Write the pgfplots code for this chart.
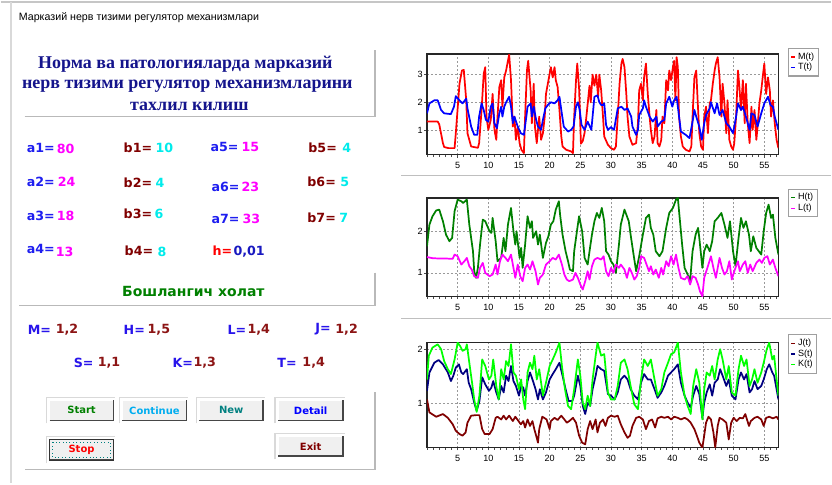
\documentclass[border=0pt]{standalone}
\usepackage{fontspec}
\setmainfont{DejaVu Sans}
\newfontfamily\lib{Liberation Sans}
\newfontfamily\libser{Liberation Serif}
\usepackage{pgfplots}
\pgfplotsset{compat=1.18}
\definecolor{navyt}{RGB}{20,20,140}
\definecolor{albl}{RGB}{30,30,240}
\definecolor{mag}{RGB}{255,0,255}
\definecolor{drd}{RGB}{128,0,0}
\definecolor{cyn}{RGB}{0,235,235}
\definecolor{valr}{RGB}{140,20,20}
\definecolor{ilbl}{RGB}{40,20,235}
\definecolor{dgreen}{RGB}{0,128,0}
\definecolor{teal2}{RGB}{0,128,128}
\definecolor{btnface}{RGB}{240,240,240}
\definecolor{Hc}{RGB}{0,128,0}
\definecolor{Lc}{RGB}{255,0,255}
\definecolor{Jc}{RGB}{128,0,0}
\definecolor{Sc}{RGB}{0,0,128}
\definecolor{Kc}{RGB}{0,255,0}
\pgfplotsset{
  myax/.style={
    scale only axis, width=264pt,
    xmin=0, xmax=57.3,
    xtick={5,10,...,55}, minor xtick={0,1,...,57},
    grid=major,
    major grid style={gray!80, dash pattern=on 1.5pt off 1.5pt, line width=0.45pt},
    tick align=outside, tick pos=left,
    major tick length=2.2pt, minor tick length=1.8pt,
    every tick/.style={black!70, line width=0.45pt},
    axis line style={line width=1pt, black!85},
    tick label style={font=\lib\fontsize{6.8}{7}\selectfont},
    yticklabel style={xshift=2.5pt},
    /pgf/number format/assume math mode=true,
    legend style={anchor=north west, font=\lib\fontsize{6.8}{7.5}\selectfont,
      draw=gray!75, line width=0.8pt, inner sep=1.2pt, row sep=-2.5pt, fill=white},
    legend cell align=left,
    legend image code/.code={\draw[##1, line width=1pt] (0pt,0pt) -- (2.8pt,0pt);},
    every axis plot/.append style={line width=1.3pt, line join=round},
  }
}
\newcommand{\btn}[6]{%
  \draw[gray!30, line width=1.2pt] (#1-3,#4+3) -- (#1-3,#2-3) -- (#3+2,#2-3);
  \fill[btnface] (#1,#2) rectangle (#3,#4);
  \draw[white, line width=1pt] (#1,#4) -- (#1,#2) -- (#3,#2);
  \draw[gray!55!black, line width=1.2pt] (#1,#4) -- (#3,#4) -- (#3,#2);
  \node[text=#6, font=\bfseries\fontsize{7.5}{9}\selectfont, inner sep=0] at ({(#1+#3)/2},{(#2+#4)/2}) {#5};
}
\begin{document}
\begin{tikzpicture}
\begin{scope}[x=0.75pt,y=-0.75pt]
\fill[white] (0,0) rectangle (832,484);
\draw[gray!45, line width=1pt] (0,2) -- (832,2);
\draw[gray!30, line width=1.5pt] (10,2) -- (10,484);
\node[anchor=west, inner sep=0, font=\lib\fontsize{8}{9}\selectfont] at (18,18) {Марказий нерв тизими регулятор механизмлари};
% title
\begin{scope}[every node/.style={inner sep=0, text=navyt, font=\libser\bfseries\fontsize{13.5}{15}\selectfont}]
\node at (185,64) {Норма ва патологияларда марказий};
\node at (187,86) {нерв тизими регулятор механизмларини};
\node at (189,107) {тахлил килиш};
\end{scope}
\draw[gray!55, line width=1pt] (24,117) -- (375,117) -- (375,50);
% parameters
\begin{scope}[every node/.style={inner sep=0, anchor=west, font=\bfseries\fontsize{9.5}{11}\selectfont}]
\node[text=albl] at (26,148) {a1=}; \node[text=mag] at (56,149) {80};
\node[text=drd] at (123,148) {b1=}; \node[text=cyn] at (155,148) {10};
\node[text=albl] at (210,147) {a5=}; \node[text=mag] at (241,147) {15};
\node[text=drd] at (308,148) {b5=}; \node[text=cyn] at (342,148) {4};
\node[text=albl] at (26,182) {a2=}; \node[text=mag] at (57,182) {24};
\node[text=drd] at (123,183) {b2=}; \node[text=cyn] at (155,183) {4};
\node[text=albl] at (211,187) {a6=}; \node[text=mag] at (241,187) {23};
\node[text=drd] at (307,182) {b6=}; \node[text=cyn] at (340,182) {5};
\node[text=albl] at (26,216) {a3=}; \node[text=mag] at (56,216) {18};
\node[text=drd] at (123,214) {b3=}; \node[text=cyn] at (154,214) {6};
\node[text=albl] at (211,219) {a7=}; \node[text=mag] at (242,219) {33};
\node[text=drd] at (307,218) {b7=}; \node[text=cyn] at (339,218) {7};
\node[text=albl] at (26,249) {a4=}; \node[text=mag] at (55,252) {13};
\node[text=drd] at (124,251) {b4=}; \node[text=cyn] at (157,252) {8};
\node[text=red] at (212,251) {h=}; \node[text=albl!80!black] at (233,252) {0,01};
\end{scope}
\draw[gray!55, line width=1pt] (375,273) -- (375,306) -- (18,306);
\node[inner sep=0, text=dgreen, font=\bfseries\fontsize{10.5}{12}\selectfont] at (193,292) {Бошлангич холат};
% initial values
\begin{scope}[every node/.style={inner sep=0, anchor=west, font=\bfseries\fontsize{9.5}{11}\selectfont}]
\node[text=ilbl] at (27,330) {M=}; \node[text=valr] at (55,330) {1,2};
\node[text=ilbl] at (123,330) {H=}; \node[text=valr] at (147,330) {1,5};
\node[text=ilbl] at (227,330) {L=}; \node[text=valr] at (247,330) {1,4};
\node[text=ilbl] at (315,330) {J=}; \node[text=valr] at (335,330) {1,2};
\node[text=ilbl] at (73,363) {S=}; \node[text=valr] at (97,363) {1,1};
\node[text=ilbl] at (172,363) {K=}; \node[text=valr] at (193,363) {1,3};
\node[text=ilbl] at (277,363) {T=}; \node[text=valr] at (302,363) {1,4};
\end{scope}
% buttons
\btn{49}{401}{113}{421}{Start}{dgreen}
\btn{122}{401}{186}{421}{Continue}{cyan}
\btn{199}{401}{263}{421}{New}{teal2}
\btn{278}{401}{343}{421}{Detail}{blue}
\btn{49}{440}{113}{461}{Stop}{red}
\draw[black!80, line width=1pt] (49,440) rectangle (113,461);
\draw[teal2, dotted, line width=0.6pt] (52,443) rectangle (110,458);
\btn{278}{437}{343}{457}{Exit}{drd}
\draw[gray!55, line width=1pt] (375,393) -- (375,470) -- (24,470);
% right separators
\draw[gray!50, line width=1pt] (401,176) -- (832,176);
\draw[gray!50, line width=1pt] (401,319) -- (832,319);
\end{scope}

% ---- plot 1
\begin{axis}[myax, at={(320.25pt,-116.25pt)}, height=75.75pt,
  ymin=0.1, ymax=3.75, ytick={1,2,3},
  legend style={at={(1.028,1.06)}}]
\addplot[red] coordinates {(0,1.3) (1.75,1.3) (2.0,1.2) (2.6,0.52) (2.8,0.38) (3.5,0.34) (4.5,0.34) (4.7,0.88) (5.3,2.67) (5.7,3.15) (6.0,3.17) (6.4,2.07) (6.6,0.88) (7.2,0.4) (8.3,0.35) (8.5,0.52) (8.9,1.72) (9.25,3.03) (9.5,3.27) (9.7,1.48) (10.0,1.0) (10.4,1.36) (10.7,2.3) (11.0,1.0) (11.3,0.64) (11.5,1.48) (11.8,2.55) (12.1,2.8) (12.3,1.84) (12.6,2.9) (12.9,3.15) (13.2,3.5) (13.4,3.72) (13.7,2.8) (14.0,1.12) (14.25,1.48) (14.5,0.64) (14.8,1.12) (15.1,0.52) (15.4,0.28) (15.8,0.16) (16.0,1.48) (16.3,3.15) (16.5,3.5) (16.9,2.43) (17.1,1.24) (17.4,2.67) (17.6,1.12) (17.9,0.52) (18.3,1.48) (18.6,0.64) (18.9,0.88) (19.2,1.48) (19.4,2.3) (19.7,2.67) (20.0,3.03) (20.2,3.27) (20.5,2.9) (20.8,3.27) (21.0,2.8) (21.3,2.55) (21.6,1.72) (21.9,0.76) (22.1,0.4) (22.7,0.28) (23.5,0.22) (23.8,0.16) (24.0,1.48) (24.3,2.8) (24.5,3.4) (24.8,2.5) (25.1,0.5) (25.4,0.6) (25.7,0.9) (26.0,1.5) (26.5,2.6) (26.7,2.0) (27.0,3.0) (27.3,2.6) (27.6,3.0) (27.9,2.2) (28.1,3.0) (28.4,2.43) (28.7,1.48) (28.9,0.76) (29.5,0.46) (30.0,0.34) (30.5,0.28) (30.8,0.4) (31.1,1.48) (31.4,2.67) (31.7,3.4) (31.9,3.57) (32.2,3.27) (32.5,2.3) (32.7,1.48) (33.0,0.76) (33.5,0.46) (34.1,0.52) (34.4,1.24) (34.6,2.43) (34.9,2.67) (35.2,2.07) (35.4,2.9) (35.7,3.4) (36.0,2.3) (36.3,1.48) (36.5,1.0) (36.8,0.52) (37.1,0.76) (37.4,1.72) (37.6,0.52) (37.9,0.4) (38.2,0.64) (38.4,1.48) (38.7,1.24) (39.0,2.8) (39.3,2.43) (39.5,3.15) (39.8,2.8) (40.1,3.27) (40.3,3.5) (40.5,2.07) (40.7,3.63) (40.9,3.27) (41.1,1.48) (41.4,0.76) (41.7,0.4) (42.2,0.28) (42.8,0.22) (43.1,0.4) (43.3,1.48) (43.6,2.9) (43.9,3.15) (44.1,2.2) (44.4,0.88) (44.7,0.4) (45.0,0.28) (45.2,1.48) (45.5,1.84) (45.8,0.88) (46.1,1.96) (46.3,2.07) (46.6,2.67) (46.9,3.15) (47.1,3.4) (47.4,3.63) (47.7,2.9) (48.0,1.48) (48.2,2.67) (48.5,1.96) (48.8,0.88) (49.0,2.07) (49.3,0.64) (49.6,0.4) (49.9,0.28) (50.1,0.52) (50.4,1.48) (50.7,3.15) (50.9,2.67) (51.2,1.72) (51.5,2.8) (51.8,1.24) (52.0,2.67) (52.3,1.24) (52.6,0.52) (52.9,1.84) (53.1,1.0) (53.4,1.72) (53.7,0.64) (53.9,1.12) (54.2,1.96) (54.5,2.43) (54.8,3.03) (55.0,3.4) (55.3,2.3) (55.6,2.9) (55.9,2.43) (56.1,1.48) (56.4,2.07) (56.7,1.24) (57.0,0.64) (57.3,0.34)};
\addlegendentry{M(t)}
\addplot[blue] coordinates {(0,1.6) (0.4,1.96) (1.2,2.07) (1.75,2.07) (2.3,1.72) (2.8,1.6) (3.9,1.57) (4.4,1.84) (4.7,2.22) (5.3,2.07) (5.8,1.96) (6.4,2.13) (6.6,1.78) (7.2,1.12) (7.7,0.82) (8.2,0.82) (8.5,1.48) (8.9,1.96) (9.25,1.72) (9.6,1.36) (10.0,1.3) (10.4,1.84) (10.7,1.96) (11.0,1.24) (11.4,1.06) (11.8,1.6) (12.1,1.84) (12.3,1.48) (12.6,1.84) (12.9,2.0) (13.4,2.2) (13.7,1.84) (14.0,1.24) (14.25,1.48) (14.8,1.12) (15.3,0.88) (15.8,0.82) (16.2,1.48) (16.4,1.84) (16.9,1.96) (17.1,1.48) (17.4,1.84) (17.8,1.36) (18.1,1.12) (18.6,1.0) (18.9,1.36) (19.3,1.78) (19.7,1.9) (20.2,2.0) (20.8,1.96) (21.3,2.07) (21.6,2.2) (21.9,1.72) (22.3,1.12) (23.0,0.94) (23.5,1.0) (23.9,1.12) (24.3,1.84) (24.6,2.0) (24.9,1.72) (25.2,1.18) (25.7,1.0) (26.2,1.3) (26.8,1.0) (27.3,2.2) (27.8,2.25) (28.1,2.0) (28.4,1.9) (28.7,1.9) (28.9,1.96) (29.2,1.18) (29.5,1.0) (30.0,1.1) (30.5,1.0) (31.1,1.78) (31.7,1.84) (32.2,1.72) (32.7,1.78) (33.3,1.48) (33.5,1.12) (34.1,0.82) (34.4,1.0) (34.6,1.54) (35.2,1.78) (35.4,2.07) (35.7,1.84) (36.3,1.48) (36.8,1.3) (37.4,1.48) (37.6,1.12) (38.2,1.3) (38.7,1.36) (39.0,1.96) (39.5,2.2) (40.0,1.84) (40.3,2.07) (40.7,2.2) (41.1,1.48) (41.4,0.94) (42.2,0.82) (42.8,0.7) (43.3,1.3) (43.6,1.72) (43.9,1.48) (44.4,1.12) (44.8,0.64) (45.2,1.24) (45.5,1.54) (46.1,1.78) (46.3,2.0) (46.9,1.6) (47.3,1.96) (47.7,1.54) (48.2,1.72) (48.8,1.24) (49.3,1.12) (49.9,0.88) (50.4,1.48) (50.7,1.96) (51.2,1.72) (51.5,1.84) (52.0,1.48) (52.6,1.0) (52.9,1.6) (53.4,1.54) (53.9,1.12) (54.5,1.6) (55.0,1.96) (55.6,2.2) (56.0,1.9) (56.4,1.84) (56.7,1.48) (57.3,1.0)};
\addlegendentry{T(t)}
\end{axis}

% ---- plot 2
\begin{axis}[myax, at={(320.25pt,-222.5pt)}, height=73.8pt,
  ymin=0.44, ymax=2.8, ytick={1,2},
  legend style={at={(1.028,1.095)}}]
\addplot[Hc] coordinates {(0,1.64) (0.4,2.16) (0.9,2.36) (1.5,2.5) (2.0,2.52) (2.6,2.24) (3.1,1.92) (3.65,1.76) (4.1,1.84) (4.5,2.48) (5.0,2.76) (5.6,2.72) (5.9,2.68) (6.5,2.76) (6.9,2.16) (7.5,1.52) (7.7,1.04) (8.0,0.88) (8.3,1.12) (8.65,1.68) (9.1,2.28) (9.5,2.24) (10.2,2.0) (10.5,1.96) (10.7,2.32) (11.2,1.76) (11.5,1.28) (12.1,1.36) (12.5,1.84) (12.8,1.52) (13.2,2.16) (13.7,2.56) (14.1,2.0) (14.4,1.68) (14.6,2.0) (15.1,1.36) (15.35,1.6) (15.6,1.12) (16.0,1.68) (16.4,2.36) (16.8,2.08) (17.1,2.24) (17.3,1.84) (17.8,2.0) (18.1,1.68) (18.4,1.92) (18.9,1.36) (19.4,1.72) (19.8,1.88) (20.2,2.16) (20.6,2.24) (21.0,2.52) (21.5,2.72) (21.7,2.4) (22.1,1.92) (22.6,1.52) (23.0,1.28) (23.3,1.08) (23.8,1.04) (24.0,1.52) (24.6,2.16) (24.8,2.36) (25.3,2.0) (25.7,1.36) (26.2,1.2) (26.5,1.52) (26.9,1.92) (27.3,2.24) (27.7,2.44) (28.1,2.32) (28.5,2.56) (28.9,2.24) (29.2,1.52) (29.6,1.44) (30.0,1.28) (30.4,1.2) (30.8,1.0) (31.3,1.68) (31.6,2.16) (32.2,2.52) (32.6,2.36) (32.9,2.24) (33.2,1.92) (33.6,1.52) (34.1,1.04) (34.6,1.4) (35.2,1.92) (35.7,2.32) (36.2,2.4) (36.5,2.08) (36.9,1.92) (37.3,1.52) (37.9,1.4) (38.4,1.52) (39.0,2.08) (39.5,2.44) (40.1,2.56) (40.6,2.76) (40.9,2.8) (41.2,2.32) (41.6,1.68) (42.0,1.12) (42.5,0.96) (42.9,0.8) (43.3,1.52) (43.8,1.92) (44.2,2.08) (44.4,1.84) (44.9,1.12) (45.2,1.52) (45.6,1.68) (46.1,1.52) (46.5,1.76) (46.9,2.24) (47.4,2.32) (48.0,2.44) (48.5,2.16) (49.0,1.84) (49.4,2.24) (49.9,1.52) (50.3,1.16) (50.8,1.84) (51.2,2.32) (51.6,2.08) (52.0,2.24) (52.5,1.92) (52.8,1.52) (53.2,1.88) (53.7,1.6) (54.1,1.52) (54.5,1.44) (54.9,2.0) (55.3,2.44) (55.7,2.64) (56.1,2.32) (56.4,2.4) (56.8,1.84) (57.3,1.44)};
\addlegendentry{H(t)}
\addplot[Lc] coordinates {(0,1.38) (1,1.35) (4.2,1.34) (4.5,1.44) (5.0,1.4) (5.6,1.2) (6.1,1.28) (6.5,1.36) (6.9,1.16) (7.3,1.08) (7.7,0.92) (8.3,0.88) (8.65,1.12) (9.1,1.24) (9.5,1.0) (10.2,0.92) (10.7,0.96) (11.2,1.2) (11.5,0.96) (11.9,1.28) (12.3,1.44) (12.8,1.36) (13.2,1.28) (13.7,1.44) (14.1,1.12) (14.4,0.88) (14.8,1.2) (15.2,0.92) (15.6,0.8) (16.0,1.12) (16.4,1.2) (16.8,1.08) (17.2,1.28) (17.7,1.04) (18.1,0.72) (18.4,0.88) (18.9,0.96) (19.4,1.2) (20.0,1.28) (20.5,1.36) (21.0,1.32) (21.5,1.44) (22.0,1.2) (22.4,0.96) (22.8,0.84) (23.2,0.8) (23.8,0.84) (24.2,1.0) (24.6,0.88) (25.0,0.72) (25.4,0.6) (25.8,0.8) (26.2,1.04) (26.5,0.84) (26.9,1.16) (27.3,1.32) (27.8,1.36) (28.4,1.32) (28.8,1.4) (29.2,1.04) (29.6,0.92) (30.0,1.12) (30.4,1.0) (30.8,1.2) (31.3,1.12) (31.6,1.2) (32.2,1.08) (32.6,0.88) (33.0,1.12) (33.4,1.0) (33.8,0.84) (34.2,0.92) (34.6,1.12) (34.9,1.4) (35.4,1.36) (35.8,1.2) (36.2,1.04) (36.5,1.16) (36.9,0.96) (37.3,1.08) (37.8,0.88) (38.2,1.12) (38.5,0.96) (39.0,1.28) (39.4,1.16) (39.8,1.4) (40.2,1.2) (40.6,1.44) (41.0,1.12) (41.4,0.88) (42.0,0.84) (42.5,0.92) (42.9,0.72) (43.3,0.92) (43.8,0.88) (44.2,0.72) (44.5,0.56) (44.9,0.44) (45.2,0.88) (45.8,1.16) (46.3,1.4) (46.7,1.12) (47.1,0.88) (47.7,1.36) (48.1,1.12) (48.5,0.96) (48.9,1.04) (49.3,1.28) (49.7,0.84) (50.1,1.04) (50.7,1.28) (51.0,1.04) (51.5,1.2) (51.9,1.28) (52.3,1.0) (52.7,1.2) (53.1,1.04) (53.7,1.24) (54.2,1.32) (54.6,1.24) (55.0,1.36) (55.5,1.4) (55.9,1.2) (56.4,1.32) (56.8,1.12) (57.3,0.92)};
\addlegendentry{L(t)}
\end{axis}

% ---- plot 3
\begin{axis}[myax, at={(320.25pt,-336.2pt)}, height=78.75pt,
  ymin=0.18, ymax=2.12, ytick={1,2},
  legend style={at={(1.028,1.08)}}]
\addplot[Jc] coordinates {(0,1.07) (0.4,0.83) (1.5,0.75) (2.6,0.8) (3.4,0.73) (4.2,0.61) (4.7,0.49) (5.3,0.43) (5.8,0.4) (6.3,0.46) (6.6,0.64) (7.2,0.77) (8.0,0.78) (8.55,0.78) (9.0,0.52) (9.4,0.43) (10.2,0.43) (10.7,0.52) (11.2,0.73) (11.5,0.75) (12.1,0.7) (12.5,0.77) (12.9,0.7) (13.4,0.77) (14.0,0.67) (14.4,0.75) (14.8,0.69) (15.3,0.61) (15.7,0.67) (16.0,0.55) (16.4,0.7) (16.8,0.58) (17.2,0.67) (17.5,0.52) (17.8,0.4) (18.1,0.27) (18.3,0.52) (18.8,0.75) (19.1,0.73) (19.5,0.7) (20.0,0.52) (20.2,0.67) (20.8,0.73) (21.3,0.69) (21.9,0.77) (22.4,0.7) (22.8,0.64) (23.2,0.67) (23.8,0.73) (24.3,0.64) (24.8,0.4) (25.3,0.27) (25.8,0.24) (26.2,0.52) (26.6,0.67) (27.0,0.52) (27.5,0.7) (27.8,0.46) (28.2,0.64) (28.7,0.7) (29.1,0.58) (29.5,0.73) (30.0,0.77) (30.6,0.75) (31.1,0.77) (31.6,0.61) (32.2,0.46) (32.7,0.36) (33.1,0.4) (33.5,0.58) (34.1,0.73) (34.6,0.75) (35.2,0.7) (35.7,0.52) (36.2,0.67) (36.7,0.7) (37.2,0.55) (37.6,0.72) (38.2,0.75) (38.7,0.73) (39.3,0.75) (39.8,0.7) (40.3,0.75) (40.9,0.73) (41.4,0.7) (42.0,0.73) (42.5,0.7) (43.0,0.64) (43.6,0.52) (44.0,0.4) (44.4,0.27) (44.9,0.18) (45.2,0.4) (45.5,0.64) (45.9,0.75) (46.3,0.7) (46.7,0.46) (47.0,0.18) (47.4,0.58) (47.7,0.73) (48.2,0.7) (48.8,0.64) (49.2,0.33) (49.6,0.64) (50.0,0.73) (50.5,0.67) (51.0,0.73) (51.5,0.72) (51.9,0.8) (52.5,0.58) (52.8,0.67) (53.4,0.73) (53.9,0.75) (54.5,0.7) (54.9,0.58) (55.3,0.73) (55.8,0.75) (56.4,0.72) (57.0,0.75) (57.3,0.7)};
\addlegendentry{J(t)}
\addplot[Sc] coordinates {(0,1.23) (0.4,1.57) (1.2,1.75) (1.9,1.8) (2.6,1.72) (3.4,1.57) (3.9,1.41) (4.3,1.51) (4.7,1.66) (5.2,1.72) (5.6,1.57) (5.9,1.54) (6.5,1.63) (6.8,1.38) (7.2,1.26) (7.7,1.01) (8.1,0.86) (8.55,1.04) (9.0,1.48) (9.5,1.35) (10.1,1.23) (10.5,1.29) (10.8,1.41) (11.3,1.2) (11.7,1.07) (12.1,1.32) (12.5,1.2) (12.9,1.51) (13.3,1.41) (13.7,1.69) (14.1,1.41) (14.5,1.32) (15.0,1.14) (15.35,1.32) (15.7,1.29) (16.0,1.14) (16.4,1.41) (16.8,1.57) (17.2,1.44) (17.7,1.26) (18.1,1.07) (18.4,1.26) (18.9,1.07) (19.4,1.2) (20.0,1.44) (20.5,1.54) (21.0,1.63) (21.6,1.75) (22.1,1.51) (22.6,1.26) (23.1,1.04) (23.7,1.04) (24.0,1.14) (24.6,1.51) (25.0,1.32) (25.4,0.95) (25.8,0.8) (26.2,1.01) (26.6,0.95) (27.0,1.26) (27.5,1.51) (27.8,1.69) (28.4,1.63) (28.9,1.6) (29.5,1.17) (30.0,1.14) (30.6,1.07) (31.1,1.2) (31.6,1.44) (32.2,1.51) (32.7,1.44) (33.2,1.26) (33.8,1.14) (34.4,1.07) (34.9,1.38) (35.4,1.54) (36.0,1.44) (36.5,1.44) (37.1,1.26) (37.6,1.1) (38.2,1.2) (38.7,1.32) (39.3,1.51) (39.8,1.57) (40.3,1.63) (40.9,1.72) (41.4,1.38) (42.0,1.14) (42.5,1.01) (43.0,0.92) (43.4,1.14) (43.9,1.32) (44.4,1.17) (44.9,0.73) (45.2,1.01) (45.6,1.2) (46.1,1.35) (46.5,1.14) (46.9,1.38) (47.4,1.44) (47.8,1.63) (48.2,1.51) (48.8,1.32) (49.2,1.44) (49.7,1.14) (50.3,1.07) (50.8,1.44) (51.2,1.57) (51.7,1.44) (52.1,1.54) (52.6,1.2) (53.0,1.26) (53.4,1.41) (53.9,1.26) (54.5,1.32) (54.9,1.44) (55.4,1.63) (55.8,1.72) (56.3,1.57) (56.6,1.51) (57.0,1.26) (57.3,1.07)};
\addlegendentry{S(t)}
\addplot[Kc] coordinates {(0,1.44) (0.3,1.88) (0.9,2.03) (1.75,2.09) (2.3,2.0) (2.8,1.78) (3.4,1.63) (3.9,1.54) (4.5,1.81) (5.0,2.12) (5.4,2.06) (5.8,1.97) (6.3,2.0) (6.5,2.09) (6.9,1.75) (7.35,1.38) (7.7,1.07) (8.1,0.84) (8.55,1.14) (9.0,1.81) (9.5,1.69) (10.1,1.44) (10.5,1.51) (10.8,1.81) (11.3,1.32) (11.7,1.07) (12.1,1.63) (12.5,1.44) (12.9,1.78) (13.3,1.69) (13.7,2.09) (14.1,1.57) (14.5,1.51) (15.0,1.26) (15.35,1.44) (15.7,1.07) (16.0,0.89) (16.4,1.57) (16.8,1.75) (17.2,1.63) (17.5,1.88) (17.9,1.44) (18.3,1.63) (18.9,1.14) (19.4,1.38) (20.0,1.69) (20.5,1.81) (21.0,1.94) (21.6,2.12) (22.0,1.69) (22.5,1.26) (23.0,0.95) (23.5,0.89) (24.0,1.26) (24.6,1.81) (25.0,1.51) (25.4,1.01) (25.8,0.89) (26.2,1.14) (26.6,0.95) (27.0,1.44) (27.5,1.88) (27.8,2.12) (28.4,1.88) (28.9,1.91) (29.5,1.2) (30.0,1.07) (30.6,1.07) (31.1,1.32) (31.6,1.75) (32.2,1.81) (32.7,1.63) (33.2,1.32) (33.8,0.98) (34.4,0.89) (34.9,1.44) (35.4,1.81) (36.0,1.69) (36.5,1.81) (37.1,1.44) (37.6,1.14) (38.2,1.26) (38.7,1.57) (39.3,1.75) (39.8,1.91) (40.3,1.94) (40.9,2.12) (41.4,1.57) (42.0,1.14) (42.5,0.95) (43.0,0.8) (43.4,1.32) (43.9,1.63) (44.4,1.38) (44.9,0.7) (45.2,1.26) (45.6,1.57) (46.1,1.51) (46.5,1.69) (46.9,1.44) (47.4,1.81) (47.8,2.0) (48.2,1.81) (48.8,1.44) (49.2,1.69) (49.7,1.2) (50.3,1.14) (50.8,1.63) (51.2,1.88) (51.7,1.69) (52.1,1.81) (52.6,1.32) (53.0,1.44) (53.4,1.63) (53.9,1.38) (54.5,1.57) (54.9,1.75) (55.4,2.0) (55.8,2.12) (56.3,1.81) (56.6,1.88) (57.0,1.44) (57.3,1.14)};
\addlegendentry{K(t)}
\end{axis}
\end{tikzpicture}
\end{document}
